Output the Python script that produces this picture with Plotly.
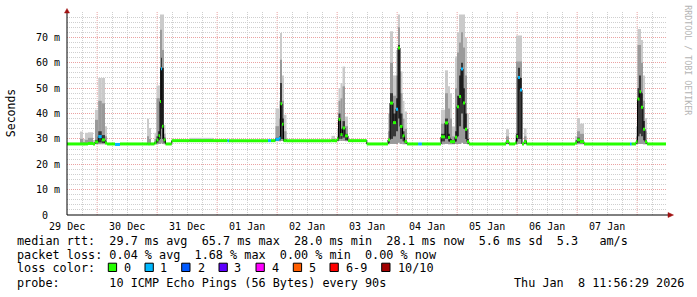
import plotly.graph_objects as go
from datetime import datetime, timedelta

# ------------------------------------------------------------------ data
range_start = datetime(2025, 12, 29, 11, 56, 29)
range_end = datetime(2026, 1, 8, 11, 56, 29)
data_end_h = 239.6          # hours after range_start where the data stops

N = None
# start of each consolidated step, hours after range_start
step_h = [0.0, 5.2, 6.4, 7.2, 8.4, 10.4, 11.2, 12.5, 13.9, 15.2,
          16.0, 19.2, 21.2, 32.2, 32.8, 33.4, 35.0, 35.8, 36.6, 37.2,
          37.6, 38.0, 38.6, 39.4, 41.9, 49.0, 58.4, 64.2, 64.8, 80.4,
          81.6, 83.4, 84.8, 85.4, 86.0, 86.6, 87.8, 105.8, 107.2, 108.0,
          108.6, 109.4, 110.2, 111.2, 112.4, 119.9, 128.4, 129.2, 130.4, 131.6,
          132.4, 133.2, 134.2, 135.0, 136.0, 140.5, 141.9, 149.6, 151.2, 152.4,
          153.2, 154.0, 155.2, 156.0, 156.8, 157.6, 158.4, 159.2, 160.0, 160.8,
          175.6, 176.8, 179.2, 179.8, 180.4, 181.2, 182.0, 182.8, 183.8, 203.2,
          204.0, 205.2, 206.8, 225.2, 225.8, 227.6, 228.2, 229.0, 229.6, 230.4,
          231.2, 232.0]
median_ms = [28.0, 28.0, 28.0, 28.0, 28.2, 28.0, 28.8, 30.9, 29.6, 28.4,
             28.0, 27.8, 28.0, 28.0, 28.0, 28.0, 28.4, 29.6, 31.2, 44.7,
             57.6, 35.0, 29.6, 28.0, 29.3, 29.3, 29.3, 29.3, 29.3, 29.3,
             29.3, 29.8, 30.2, 43.8, 35.8, 29.3, 29.3, 29.3, 29.3, 30.0,
             37.7, 31.7, 34.3, 31.2, 29.3, 28.0, 29.6, 44.1, 36.4, 41.7,
             65.8, 34.9, 31.2, 28.9, 28.0, 28.0, 28.0, 30.8, 36.3, 30.5,
             28.9, 28.9, 30.6, 42.7, 46.7, 57.5, 44.1, 33.8, 28.9, 28.0,
             28.9, 28.0, 28.4, 30.9, 54.2, 49.3, 28.0, 28.9, 28.0, 28.4,
             29.6, 28.9, 28.0, 28.0, 28.0, 28.9, 45.7, 48.6, 42.5, 33.8,
             28.9, 28.0]
loss_count = [0, 0, 0, 0, 0, 0, 0, 1, 0, 0,
              0, 1, 0, 0, 0, 0, 0, 0, 0, 0,
              1, 0, 0, 0, 0, 0, 0, 1, 0, 1,
              0, 1, 1, 0, 0, 0, 0, 0, 0, 0,
              0, 0, 0, 0, 0, 0, 0, 0, 0, 1,
              0, 0, 0, 0, 0, 1, 0, 0, 0, 0,
              0, 0, 0, 0, 0, 1, 0, 0, 0, 0,
              0, 0, 0, 0, 1, 1, 0, 0, 0, 0,
              0, 0, 0, 1, 0, 0, 0, 0, 0, 0,
              0, 0]
smoke_lo_ms = [N, 27.9, 27.9, 27.9, 27.9, 27.9, 27.9, 27.9, 27.9, 27.9,
               N, N, N, 27.9, 27.9, N, 27.9, 27.9, 28.0, 28.0,
               28.5, 28.0, 27.9, N, N, 29.1, N, N, N, N,
               N, 29.1, 29.1, 29.2, 29.2, 29.1, N, 29.1, N, 29.1,
               29.2, 29.2, 29.2, 29.1, N, N, 27.9, 28.0, 28.0, 28.0,
               28.5, 28.0, 27.9, 27.9, N, N, N, 27.9, 28.0, 27.9,
               27.9, 27.9, 28.0, 28.0, 28.0, 28.5, 28.0, 28.0, 27.9, N,
               27.9, N, 27.9, 27.9, 28.0, 28.0, N, 27.9, N, 27.9,
               27.9, 27.9, N, N, N, 27.9, 28.0, 28.0, 28.0, 27.9,
               27.9, N]
smoke_hi_ms = [N, 32.9, 30.0, 32.4, 32.6, 29.6, 41.5, 54.0, 54.0, 35.0,
               N, N, N, 37.9, 34.3, N, 32.4, 51.0, 51.0, 79.0,
               79.0, 79.0, 35.5, N, N, 30.4, N, N, N, N,
               N, 42.0, 45.0, 71.7, 55.0, 39.5, N, 31.2, N, 34.0,
               50.0, 52.0, 58.5, 38.8, N, N, 40.0, 72.4, 55.0, 65.0,
               79.0, 56.6, 45.0, 40.8, N, N, N, 41.5, 57.0, 50.7,
               48.0, 34.9, 62.5, 72.0, 79.0, 79.0, 79.0, 70.0, 40.0, N,
               33.8, N, 31.6, 70.7, 70.7, 70.7, N, 34.2, N, 31.0,
               38.2, 36.0, N, N, N, 35.0, 73.3, 73.3, 69.0, 55.0,
               38.2, N]
smoke_mid_ms = [N, 30.0, 28.8, 29.6, 30.4, 28.6, 37.5, 45.0, 44.0, 31.0,
                N, N, N, 31.0, 30.0, N, 30.0, 46.0, 46.0, 73.0,
                73.0, 65.0, 32.0, N, N, 29.8, N, N, N, N,
                N, 35.0, 38.0, 61.2, 45.0, 33.0, N, 30.0, N, 31.0,
                45.0, 46.0, 50.7, 35.0, N, N, 33.0, 60.0, 47.0, 55.0,
                74.0, 48.0, 38.0, 34.0, N, N, N, 36.0, 48.0, 42.0,
                38.0, 31.0, 50.0, 64.0, 68.0, 72.0, 66.0, 55.0, 34.0, N,
                31.0, N, 29.5, 60.5, 60.5, 60.5, N, 31.0, N, 29.5,
                33.0, 32.0, N, N, N, 31.0, 67.0, 67.0, 60.0, 45.0,
                33.0, N]
core_lo_ms = [N, N, N, N, N, N, 28.2, 28.6, 28.4, 28.0,
              N, N, N, N, N, N, 28.0, 28.5, 29.5, 30.0,
              34.0, 30.0, 28.5, N, N, N, N, N, N, N,
              N, 29.3, 29.5, 30.0, 30.0, 29.0, N, N, N, 29.3,
              30.0, 30.0, 30.5, 29.5, N, N, 28.5, 30.0, 31.0, 33.0,
              38.0, 30.0, 29.0, 28.2, N, N, N, 29.0, 30.0, 29.0,
              28.4, 28.2, 29.0, 31.0, 35.0, 40.0, 34.0, 30.0, 28.2, N,
              28.2, N, 28.0, 29.0, 30.0, 30.0, N, 28.2, N, N,
              28.5, 28.3, N, N, N, 28.2, 31.0, 32.0, 31.0, 29.5,
              28.2, N]
core_hi_ms = [N, N, N, N, N, N, 29.6, 33.0, 31.5, 29.0,
              N, N, N, N, N, N, 28.8, 31.0, 33.0, 58.0,
              62.0, 58.0, 30.5, N, N, N, N, N, N, N,
              N, 30.4, 31.0, 52.0, 38.0, 30.0, N, N, N, 30.5,
              40.0, 34.0, 37.0, 32.0, N, N, 30.0, 48.0, 40.0, 46.0,
              67.0, 40.0, 33.0, 29.5, N, N, N, 32.0, 38.0, 32.0,
              30.0, 29.5, 33.0, 47.0, 55.0, 60.0, 50.0, 40.0, 30.0, N,
              29.3, N, 28.8, 32.0, 58.0, 54.0, N, 29.5, N, N,
              30.5, 29.5, N, N, N, 29.5, 50.0, 55.0, 48.0, 37.0,
              29.5, N]

day_tick_dates = ["2025-12-29 12:00", "2025-12-30 12:00", "2025-12-31 12:00",
                  "2026-01-01 12:00", "2026-01-02 12:00", "2026-01-03 12:00",
                  "2026-01-04 12:00", "2026-01-05 12:00", "2026-01-06 12:00",
                  "2026-01-07 12:00"]
day_tick_labels = ["29 Dec", "30 Dec", "31 Dec", "01 Jan", "02 Jan",
                   "03 Jan", "04 Jan", "05 Jan", "06 Jan", "07 Jan"]
midnight_dates = ["2025-12-30", "2025-12-31", "2026-01-01", "2026-01-02",
                  "2026-01-03", "2026-01-04", "2026-01-05", "2026-01-06",
                  "2026-01-07", "2026-01-08"]
y_tick_vals = [0, 10, 20, 30, 40, 50, 60, 70]
y_tick_labels = ["0  ", "10 m", "20 m", "30 m", "40 m", "50 m", "60 m", "70 m"]

loss_labels = ["0", "1", "2", "3", "4", "5", "6-9", "10/10"]
loss_colors = ["#26ff00", "#00b8ff", "#0059ff", "#5e00ff",
               "#ff00ff", "#ff5e00", "#ff0000", "#a00000"]

legend_rtt = "median rtt:  29.7 ms avg  65.7 ms max  28.0 ms min  28.1 ms now  5.6 ms sd  5.3   am/s"
legend_loss = "packet loss: 0.04 % avg  1.68 % max  0.00 % min  0.00 % now"
legend_color_title = "loss color:"
legend_probe = "probe:       10 ICMP Echo Pings (56 Bytes) every 90s"
legend_date = "Thu Jan  8 11:56:29 2026"
watermark = "RRDTOOL / TOBI OETIKER"
y_title = "Seconds"

# ------------------------------------------------------------------ helpers
MONO = "DejaVu Sans Mono"
PL, PR, PT, PB = 67, 667, 12, 215   # plot area in pixels


def at(h):
    return range_start + timedelta(hours=h)


def nb(s):
    return s.replace(" ", "\u00a0")


def px_x(px):
    return (px - PL) / (PR - PL)


def px_y(py):
    return (PB - py) / (PB - PT)


def loss_index(c):
    if c <= 5:
        return c
    if c <= 9:
        return 6
    return 7


n = len(step_h)
assert all(len(a) == n for a in [median_ms, loss_count, smoke_lo_ms, smoke_hi_ms,
                                 smoke_mid_ms, core_lo_ms, core_hi_ms])
ends_h = step_h[1:] + [data_end_h]

fig = go.Figure()


def band(lo_arr, hi_arr, color):
    xs, bases, ys, ws = [], [], [], []
    for i in range(n):
        lo, hi = lo_arr[i], hi_arr[i]
        if lo is None or hi is None:
            continue
        xs.append(at(step_h[i]))
        bases.append(lo)
        ys.append(hi - lo)
        ws.append((ends_h[i] - step_h[i]) * 3600e3)
    fig.add_trace(go.Bar(x=xs, y=ys, base=bases, width=ws, offset=0,
                         marker=dict(color=color, line=dict(width=0)),
                         hoverinfo="skip", showlegend=False))


band(smoke_lo_ms, smoke_hi_ms, "#cacaca")
band(smoke_lo_ms, smoke_mid_ms, "#9a9a9a")
band(core_lo_ms, core_hi_ms, "#383838")

# black connecting median line
fig.add_trace(go.Scatter(
    x=[at(h) for h in step_h] + [at(data_end_h)],
    y=median_ms + [median_ms[-1]],
    mode="lines", line=dict(color="black", width=1, shape="hv"),
    hoverinfo="skip", showlegend=False))

# loss-coloured median segments
for ci, col in enumerate(loss_colors):
    xs, ys = [], []
    for i in range(n):
        if loss_index(loss_count[i]) != ci:
            continue
        xs += [at(step_h[i]), at(ends_h[i]), None]
        ys += [median_ms[i], median_ms[i], None]
    if xs:
        fig.add_trace(go.Scatter(x=xs, y=ys, mode="lines",
                                 line=dict(color=col, width=3),
                                 hoverinfo="skip", showlegend=False))

GRAY = "#cfcfcf"
RED = "#eaa2a2"

shapes = []
for d in midnight_dates:
    shapes.append(dict(type="line", xref="x", yref="paper", x0=d, x1=d, y0=0, y1=1,
                       line=dict(color=RED, width=1, dash="1px,1px"), layer="below"))
# axes with arrows
shapes.append(dict(type="line", xref="paper", yref="paper", xsizemode="pixel", xanchor=0,
                   x0=0, x1=602, y0=0, y1=0, line=dict(color="black", width=1)))
shapes.append(dict(type="line", xref="paper", yref="paper", ysizemode="pixel", yanchor=0,
                   x0=0, x1=0, y0=0, y1=204, line=dict(color="black", width=1)))
shapes.append(dict(type="path", xref="paper", yref="paper", xsizemode="pixel", ysizemode="pixel",
                   xanchor=1, yanchor=0, path="M 1,-2.5 L 1,2.5 L 6.5,0 Z",
                   fillcolor="#a01010", line=dict(color="#a01010", width=0.5)))
shapes.append(dict(type="path", xref="paper", yref="paper", xsizemode="pixel", ysizemode="pixel",
                   xanchor=0, yanchor=1, path="M -2.5,-1 L 2.5,-1 L 0,3.5 Z",
                   fillcolor="#a01010", line=dict(color="#a01010", width=0.5)))

annotations = []


def text_at(txt, px, py, size=11.8, color="black", anchor="left", angle=0):
    annotations.append(dict(text=nb(txt), xref="paper", yref="paper",
                            x=px_x(px), y=px_y(py), xanchor=anchor, yanchor="middle",
                            showarrow=False, textangle=angle, borderpad=0,
                            font=dict(family=MONO, size=size, color=color)))


text_at(legend_rtt, 16, 241)
text_at(legend_loss, 16, 255)
text_at(legend_color_title, 16, 268)
text_at(legend_probe, 16, 283)
text_at(legend_date, 513, 283)

label_x = [123.3, 159.3, 196.7, 233.3, 270.7, 308.3, 345.0, 396.7]
square_x = [108.3, 145.0, 181.7, 219.0, 256.0, 293.3, 330.0, 381.7]
for lab, col, lx, sx in zip(loss_labels, loss_colors, label_x, square_x):
    text_at(lab, lx, 268)
    shapes.append(dict(type="rect", xref="paper", yref="paper",
                       x0=px_x(sx), x1=px_x(sx + 8.3), y0=px_y(271.5), y1=px_y(263.2),
                       fillcolor=col, line=dict(color="black", width=1)))

text_at(y_title, 10.7, 113.5, size=11.5, anchor="center", angle=-90)
text_at(watermark, 687.7, 60, size=8.3, color="#b4b4b4", anchor="center", angle=90)

fig.update_layout(
    width=697, height=297,
    margin=dict(l=PL, r=697 - PR, t=PT, b=297 - PB, pad=0),
    paper_bgcolor="white", plot_bgcolor="white",
    barmode="overlay", showlegend=False,
    shapes=shapes, annotations=annotations,
    xaxis=dict(type="date", range=[range_start, range_end],
               tickmode="array", tickvals=day_tick_dates, ticktext=day_tick_labels,
               showgrid=True, gridcolor=GRAY, griddash="1px,1px", gridwidth=1,
               minor=dict(tickmode="linear", tick0="2025-12-29 06:00", dtick=12 * 3600e3,
                          showgrid=True, gridcolor=GRAY, griddash="1px,1px", gridwidth=1),
               showline=False, zeroline=False, ticks="",
               tickfont=dict(family=MONO, size=10, color="black"),
               ticklabelstandoff=4, fixedrange=True),
    yaxis=dict(range=[0, 80], tickmode="array", tickvals=y_tick_vals,
               ticktext=[nb(t) for t in y_tick_labels],
               showgrid=True, gridcolor=RED, griddash="1px,1px", gridwidth=1,
               minor=dict(tickmode="linear", tick0=0, dtick=2,
                          showgrid=True, gridcolor=GRAY, griddash="1px,1px", gridwidth=1),
               showline=False, zeroline=False, ticks="",
               tickfont=dict(family=MONO, size=10, color="black"),
               ticklabelstandoff=6, fixedrange=True),
)

fig.write_html("out.html", config={"displayModeBar": False})
